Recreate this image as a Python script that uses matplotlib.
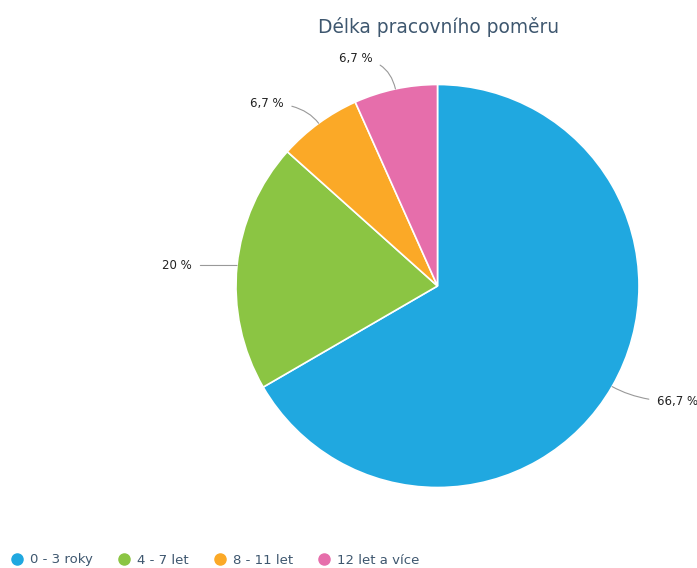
import matplotlib.pyplot as plt
from matplotlib.lines import Line2D
import numpy as np

# délka pracovního poměru (podíl zaměstnanců v %)
kategorie = ['0 - 3 roky', '4 - 7 let', '8 - 11 let', '12 let a více']
podily = [66.7, 20.0, 6.7, 6.7]
popisky = ['66,7 %', '20 %', '6,7 %', '6,7 %']
barvy = ['#20a8e0', '#8bc543', '#fba927', '#e66eab']

W, H = 697, 568
fig = plt.figure(figsize=(W / 100, H / 100), dpi=100)
ax = fig.add_axes([0, 0, 1, 1])

stred = (437.5, H - 286)
r = 201.5
wedges, _ = ax.pie(podily, colors=barvy, startangle=90, counterclock=False,
                   center=stred, radius=r,
                   wedgeprops=dict(edgecolor='white', linewidth=1.2))
# pie si nastaví vlastní meze, přepíšeme je na pixely obrázku
ax.set_xlim(0, W)
ax.set_ylim(0, H)
ax.set_aspect('equal')
ax.axis('off')

# popisky s vodicí čarou
odsazeni = [(45, -15, 'left'), (-45, 0, 'right'), (-35, 20, 'right'), (-23, 30, 'right')]
for w, txt, (dx, dy, ha) in zip(wedges, popisky, odsazeni):
    uhel = np.deg2rad((w.theta1 + w.theta2) / 2)
    x = stred[0] + r * np.cos(uhel)
    y = stred[1] + r * np.sin(uhel)
    tx, ty = x + dx, y + dy
    ax.annotate(txt, xy=(x, y), xytext=(tx, ty), ha=ha, va='center',
                fontsize=8.5, color='#222222',
                arrowprops=dict(arrowstyle='-', color='#999999', lw=0.8,
                                shrinkA=4, shrinkB=0,
                                connectionstyle='angle3,angleA=0,angleB=%d' %
                                int(np.rad2deg(uhel))))

fig.text(439 / W, 1 - 27 / H, 'Délka pracovního poměru', ha='center', va='center',
         fontsize=13.4, color='#3e576f')

handles = [Line2D([], [], marker='o', linestyle='none', markersize=8,
                  markerfacecolor=c, markeredgecolor=c) for c in barvy]
leg = fig.legend(handles, kategorie, loc='center left', ncol=4,
                 bbox_to_anchor=(0.007, 1 - 560 / H), frameon=False,
                 fontsize=9.5, handletextpad=0.5, columnspacing=1.85,
                 borderaxespad=0, handlelength=1.0)
for t in leg.get_texts():
    t.set_color('#3e576f')

fig.savefig('out.png', dpi=100)
